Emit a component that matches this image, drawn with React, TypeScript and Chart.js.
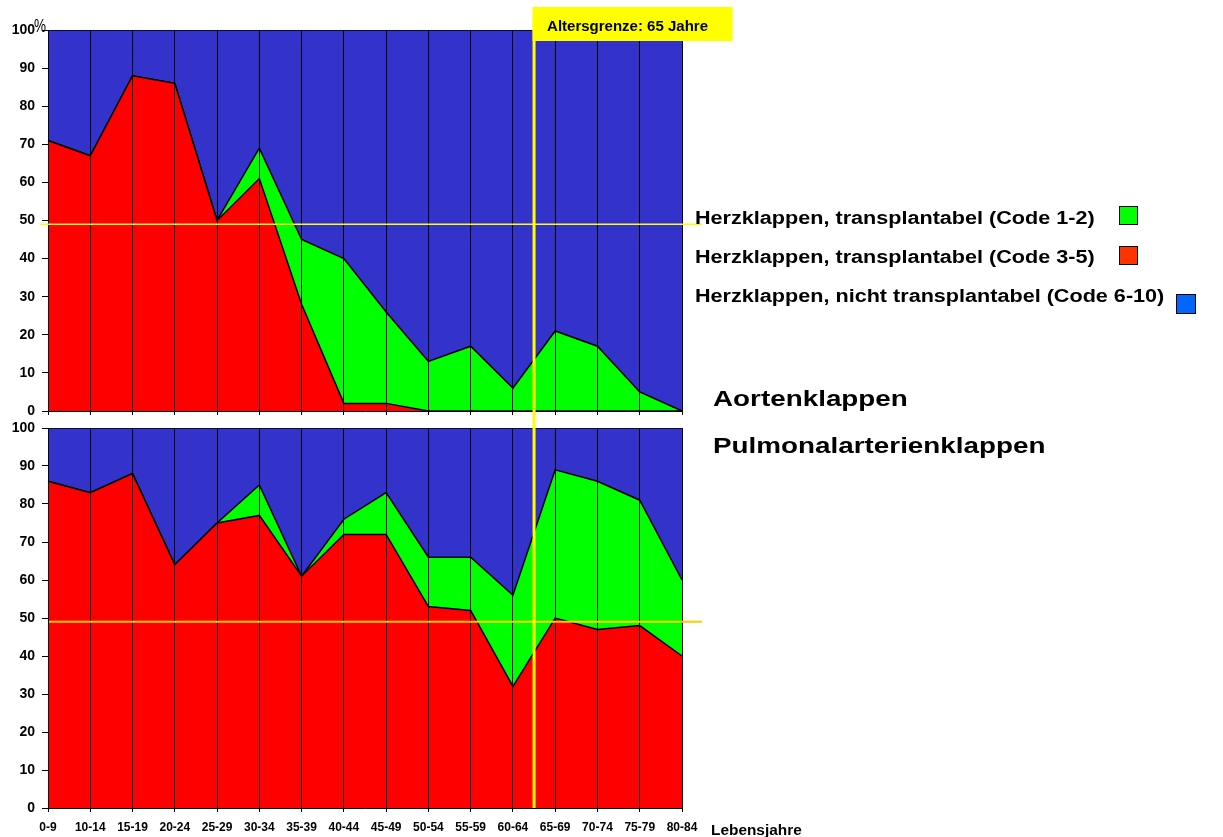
import React, { useEffect, useRef } from "react";
import { Chart, registerables } from "chart.js";

Chart.register(...registerables);

// ---------- data ----------
const AGE_GROUPS = [
  "0-9", "10-14", "15-19", "20-24", "25-29", "30-34", "35-39", "40-44",
  "45-49", "50-54", "55-59", "60-64", "65-69", "70-74", "75-79", "80-84",
];
const Y_TICKS = [0, 10, 20, 30, 40, 50, 60, 70, 80, 90, 100];

// Aortenklappen (top panel), percent shares
const AORTA_CODE_3_5 = [71, 67, 88, 86, 50, 61, 28, 2, 2, 0, 0, 0, 0, 0, 0, 0];
const AORTA_CODE_1_2 = [0, 0, 0, 0, 0, 8, 17, 38, 24, 13, 17, 6, 21, 17, 5, 0];
const AORTA_CODE_6_10 = [29, 33, 12, 14, 50, 31, 55, 60, 74, 87, 83, 94, 79, 83, 95, 100];

// Pulmonalarterienklappen (bottom panel), percent shares
const PULM_CODE_3_5 = [86, 83, 88, 64, 75, 77, 61, 72, 72, 53, 52, 32, 50, 47, 48, 40];
const PULM_CODE_1_2 = [0, 0, 0, 0, 0, 8, 0, 4, 11, 13, 14, 24, 39, 39, 33, 20];
const PULM_CODE_6_10 = [14, 17, 12, 36, 25, 15, 39, 24, 17, 34, 34, 44, 11, 14, 19, 40];

const REFERENCE_LINE_VALUE = 49;
const AGE_LIMIT_INDEX = 11.5; // between 60-64 and 65-69
const AGE_LIMIT_LABEL = "Altersgrenze: 65 Jahre";

const LEGEND_LABELS = [
  "Herzklappen, transplantabel (Code 1-2)",
  "Herzklappen, transplantabel (Code 3-5)",
  "Herzklappen, nicht transplantabel (Code 6-10)",
];
const PANEL_TITLES = ["Aortenklappen", "Pulmonalarterienklappen"];
const X_AXIS_TITLE = "Lebensjahre";
const Y_UNIT = "%";

// ---------- styles ----------
const FONT = "'Liberation Sans', Arial, Helvetica, sans-serif";
const COLOR_RED = "#FF0000";
const COLOR_GREEN = "#00FF00";
const COLOR_BLUE = "#3333CC";

Chart.defaults.font.family = FONT;

function makeConfig(red: number[], green: number[], blue: number[], isTop: boolean) {
  const ds = (label: string, data: number[], bg: string, fill: any) => ({
    label,
    data,
    backgroundColor: bg,
    borderColor: "#000000",
    borderWidth: 1.5,
    fill,
    pointRadius: 0,
    pointHoverRadius: 0,
    tension: 0,
  });

  const overlay = {
    id: isTop ? "topOverlay" : "bottomOverlay",
    afterDraw(chart: any) {
      const { ctx, chartArea } = chart;
      const x = chart.scales.x;
      const y = chart.scales.y;
      ctx.save();
      // horizontal reference line
      const yy = y.getPixelForValue(REFERENCE_LINE_VALUE);
      ctx.beginPath();
      if (isTop) {
        ctx.strokeStyle = "#FFFF00";
        ctx.lineWidth = 1.5;
        ctx.moveTo(chartArea.left - 8, yy);
      } else {
        ctx.strokeStyle = "#FFCC00";
        ctx.lineWidth = 2;
        ctx.moveTo(chartArea.left + 1, yy);
      }
      ctx.lineTo(chartArea.right + 20, yy);
      ctx.stroke();

      // vertical age limit line
      const vx = x.getPixelForValue(AGE_LIMIT_INDEX);
      ctx.strokeStyle = "#FFFF00";
      ctx.lineWidth = 3;
      ctx.beginPath();
      if (isTop) {
        ctx.moveTo(vx, 20);
        ctx.lineTo(vx, chart.height);
      } else {
        ctx.moveTo(vx, 0);
        ctx.lineTo(vx, chartArea.bottom);
      }
      ctx.stroke();

      if (isTop) {
        // label box
        ctx.fillStyle = "#FFFF00";
        ctx.fillRect(vx - 1.5, 7, 200, 34);
        ctx.fillStyle = "#000000";
        ctx.font = `bold 15px ${FONT}`;
        ctx.textBaseline = "alphabetic";
        ctx.textAlign = "left";
        ctx.fillText(AGE_LIMIT_LABEL, vx + 13, 31);
        // percent sign
        ctx.save();
        ctx.translate(34, 31.5);
        ctx.scale(0.75, 1);
        ctx.font = `18px ${FONT}`;
        ctx.fillText(Y_UNIT, 0, 0);
        ctx.restore();
      }
      ctx.restore();
    },
  };

  return {
    type: "line" as const,
    data: {
      labels: AGE_GROUPS,
      datasets: [
        ds(LEGEND_LABELS[1], red, COLOR_RED, "origin"),
        ds(LEGEND_LABELS[0], green, COLOR_GREEN, "-1"),
        ds(LEGEND_LABELS[2], blue, COLOR_BLUE, "-1"),
      ],
    },
    options: {
      responsive: false,
      maintainAspectRatio: false,
      animation: false as const,
      events: [],
      layout: {
        autoPadding: false,
        padding: isTop
          ? { top: 30, right: 78, bottom: 0, left: 0 }
          : { top: 9, right: 78, bottom: 0, left: 0 },
      },
      elements: { line: { borderJoinStyle: "miter" as const } },
      plugins: {
        legend: { display: false },
        tooltip: { enabled: false },
        title: { display: false },
      },
      scales: {
        x: {
          type: "category" as const,
          offset: false,
          afterFit: (s: any) => {
            s.height = isTop ? 8 : 29;
            s.paddingLeft = 0;
            s.paddingRight = 0;
            s.paddingTop = 0;
            s.paddingBottom = 0;
          },
          grid: {
            color: "#000000",
            lineWidth: 1,
            drawOnChartArea: true,
            drawTicks: true,
            tickLength: 4,
            z: 1,
          },
          border: { color: "#000000", width: 1, z: 1 },
          ticks: {
            display: !isTop,
            autoSkip: false,
            maxRotation: 0,
            minRotation: 0,
            padding: 8,
            color: "#000000",
            font: { size: 12, weight: "bold" as const, family: FONT },
          },
        },
        y: {
          stacked: true,
          min: 0,
          max: 100,
          afterFit: (s: any) => {
            s.width = 48;
            s.paddingLeft = 0;
            s.paddingRight = 0;
            s.paddingTop = 0;
            s.paddingBottom = 0;
          },
          afterBuildTicks: (s: any) => {
            s.ticks = Y_TICKS.map((v) => ({ value: v }));
          },
          grid: {
            drawOnChartArea: false,
            drawTicks: true,
            tickLength: 6,
            color: "#000000",
            z: 1,
          },
          border: { color: "#000000", width: 1, z: 1 },
          ticks: {
            padding: 7,
            color: "#000000",
            font: { size: 14, weight: "bold" as const, family: FONT },
          },
        },
      },
    },
    plugins: [overlay],
  };
}

const textBase: React.CSSProperties = {
  position: "absolute",
  whiteSpace: "nowrap",
  fontFamily: FONT,
  fontWeight: "bold",
  lineHeight: 1,
  color: "#000",
  transformOrigin: "left top",
  margin: 0,
};

export default function App() {
  const topRef = useRef<HTMLCanvasElement>(null);
  const bottomRef = useRef<HTMLCanvasElement>(null);

  useEffect(() => {
    const c1 = new Chart(topRef.current as HTMLCanvasElement, makeConfig(AORTA_CODE_3_5, AORTA_CODE_1_2, AORTA_CODE_6_10, true) as any);
    const c2 = new Chart(bottomRef.current as HTMLCanvasElement, makeConfig(PULM_CODE_3_5, PULM_CODE_1_2, PULM_CODE_6_10, false) as any);
    return () => {
      c1.destroy();
      c2.destroy();
    };
  }, []);

  const legendRows = [
    { text: LEGEND_LABELS[0], top: 208.8, sq: { left: 1119, top: 206, size: 19, color: COLOR_GREEN } },
    { text: LEGEND_LABELS[1], top: 247.8, sq: { left: 1119, top: 246, size: 19, color: "#FF3300" } },
    { text: LEGEND_LABELS[2], top: 286.8, sq: { left: 1176, top: 294, size: 20, color: "#0066FF" } },
  ];

  return (
    <div style={{ position: "absolute", left: 0, top: 0, width: 1223, height: 837, background: "#fff", overflow: "hidden" }}>
      <canvas ref={topRef} width={760} height={419} style={{ position: "absolute", left: 0, top: 0, width: 760, height: 419 }} />
      <canvas ref={bottomRef} width={760} height={418} style={{ position: "absolute", left: 0, top: 419, width: 760, height: 418 }} />
      {legendRows.map((r, i) => (
        <React.Fragment key={i}>
          <div style={{ ...textBase, left: 695, top: r.top, fontSize: 18, transform: "scaleX(1.2)" }}>{r.text}</div>
          <div
            style={{
              position: "absolute",
              left: r.sq.left,
              top: r.sq.top,
              width: r.sq.size,
              height: r.sq.size,
              boxSizing: "border-box",
              border: "1px solid #000",
              background: r.sq.color,
            }}
          />
        </React.Fragment>
      ))}
      <div style={{ ...textBase, left: 713, top: 388.4, fontSize: 22, transform: "scaleX(1.265)" }}>{PANEL_TITLES[0]}</div>
      <div style={{ ...textBase, left: 713, top: 435.4, fontSize: 22, transform: "scaleX(1.265)" }}>{PANEL_TITLES[1]}</div>
      <div style={{ ...textBase, left: 711, top: 823.1, fontSize: 14, transform: "scaleX(1.1)" }}>{X_AXIS_TITLE}</div>
    </div>
  );
}
